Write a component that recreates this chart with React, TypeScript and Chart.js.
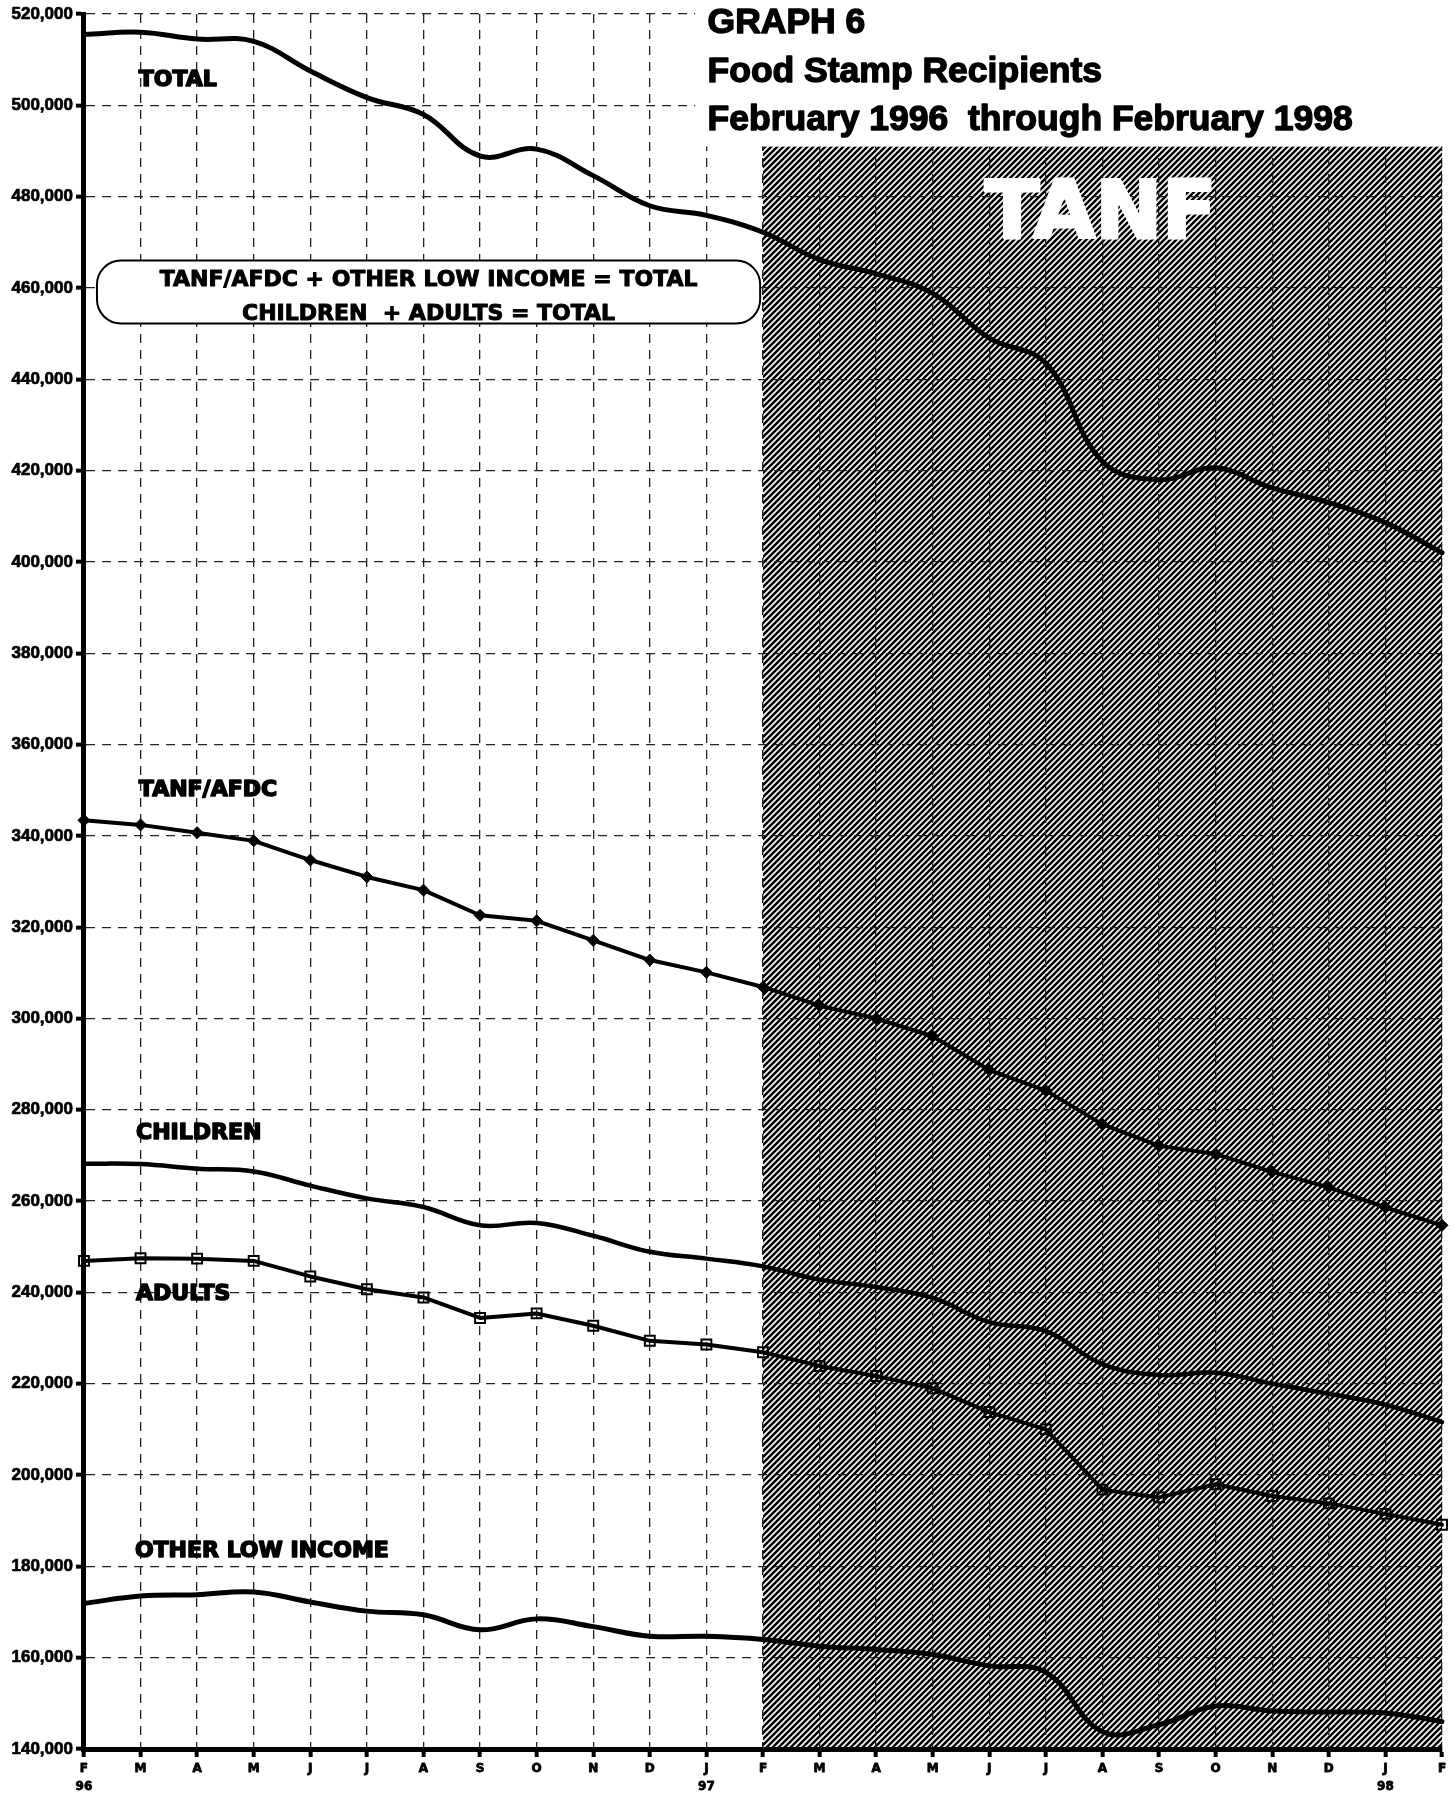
import React, { useEffect, useRef } from "react";
import { Chart, registerables } from "chart.js";

Chart.register(...registerables);

// ---------- data ----------
const monthLabels = ["F", "M", "A", "M", "J", "J", "A", "S", "O", "N", "D", "J", "F", "M", "A", "M", "J", "J", "A", "S", "O", "N", "D", "J", "F"];
const yearTags = ["96", "", "", "", "", "", "", "", "", "", "", "97", "", "", "", "", "", "", "", "", "", "", "", "98", ""];

const totalRecipients = [515500, 516000, 514500, 514000, 507500, 501700, 498000, 488900, 490400, 484600, 478000, 475900, 472200, 466200, 463100, 458800, 449000, 443500, 422000, 418000, 420600, 416200, 413000, 408600, 402000];
const tanfAfdc = [343400, 342400, 340700, 338900, 334700, 331000, 328100, 322600, 321400, 317100, 312800, 310100, 306900, 302800, 300000, 296100, 288700, 284200, 276800, 272100, 270300, 266400, 263000, 258600, 254700];
const children = [268200, 268100, 267100, 266500, 263400, 260600, 258700, 254700, 255200, 252400, 248900, 247400, 245700, 242800, 241200, 238800, 233500, 231500, 224300, 221900, 222400, 220000, 217800, 215400, 211600];
const adults = [246900, 247500, 247400, 246900, 243500, 240700, 238900, 234400, 235400, 232700, 229400, 228600, 226900, 223900, 221700, 219000, 213800, 210000, 196800, 195100, 198000, 195400, 193800, 191500, 189100];
const otherLowIncome = [171900, 173500, 173800, 174400, 172200, 170200, 169400, 166100, 168500, 166800, 164700, 164700, 164000, 162500, 161800, 160700, 158200, 156800, 143800, 145300, 149400, 148300, 148100, 147900, 146000];

const yMin = 140000;
const yMax = 520000;
const yStep = 20000;

// TANF period (shaded): from Feb 97 (index 12) to Feb 98 (index 24)
const tanfFrom = 12;
const tanfTo = 24;
const tanfTopValue = 491000;

const titleLines = ["GRAPH 6", "Food Stamp Recipients", "February 1996  through February 1998"];
const boxLines = ["TANF/AFDC + OTHER LOW INCOME = TOTAL", "CHILDREN  + ADULTS = TOTAL"];
const seriesLabelTexts = ["TOTAL", "TANF/AFDC", "CHILDREN", "ADULTS", "OTHER LOW INCOME"];
const seriesLabelAt = [0.97, 0.97, 0.92, 0.92, 0.9];
const seriesLabelValue = [506000, 350500, 275400, 240000, 183700];

const TICK_LEN = 8;
const TICK_PAD = 3;
const X_LINE_H = 18;

function fmt(v: number): string {
  return String(v).replace(/\B(?=(\d{3})+(?!\d))/g, ",");
}

function makeTile(): HTMLCanvasElement {
  const tile = document.createElement("canvas");
  tile.width = 6;
  tile.height = 6;
  const t = tile.getContext("2d")!;
  t.strokeStyle = "#000";
  t.lineWidth = 2.5;
  t.beginPath();
  t.moveTo(-1, 7);
  t.lineTo(7, -1);
  t.moveTo(-2, 2);
  t.lineTo(2, -2);
  t.moveTo(4, 8);
  t.lineTo(8, 4);
  t.stroke();
  return tile;
}

function heavyText(ctx: CanvasRenderingContext2D, text: string, x: number, y: number, stroke: number) {
  ctx.fillText(text, x, y);
  if (stroke > 0) {
    ctx.lineWidth = stroke;
    ctx.lineJoin = "round";
    ctx.strokeStyle = ctx.fillStyle as string;
    ctx.strokeText(text, x, y);
  }
}

export default function App() {
  const ref = useRef<HTMLCanvasElement>(null);

  useEffect(() => {
    const canvas = ref.current!;
    const tile = makeTile();

    const decor = {
      id: "decor",
      beforeDraw(chart: any) {
        const { ctx, chartArea, scales } = chart;
        const x = scales.x;
        const y = scales.y;
        const x0 = x.getPixelForValue(tanfFrom);
        const x1 = x.getPixelForValue(tanfTo);
        const y0 = y.getPixelForValue(tanfTopValue);
        ctx.save();
        ctx.fillStyle = ctx.createPattern(tile, "repeat");
        ctx.fillRect(x0, y0, x1 - x0, chartArea.bottom - y0);
        ctx.restore();
      },
      beforeDatasetsDraw(chart: any) {
        const { ctx, chartArea, scales, width } = chart;
        const x = scales.x;
        const y = scales.y;
        ctx.save();

        // axis tick labels, taken from the scales' own ticks
        ctx.fillStyle = "#000";
        ctx.textBaseline = "middle";
        ctx.textAlign = "right";
        ctx.font = 'bold 17px "Liberation Sans"';
        y.ticks.forEach((t: any) => {
          heavyText(ctx, String(t.label), y.right - TICK_LEN - TICK_PAD, y.getPixelForValue(t.value), 0.7);
        });
        ctx.textAlign = "center";
        ctx.font = 'bold 12px "DejaVu Sans"';
        x.ticks.forEach((t: any, i: number) => {
          const lines = Array.isArray(t.label) ? t.label : [t.label];
          const px = x.getPixelForTick(i);
          lines.forEach((ln: string, j: number) => {
            heavyText(ctx, ln, px, x.top + TICK_LEN + TICK_PAD + X_LINE_H / 2 + j * X_LINE_H, 0.8);
          });
        });
        ctx.textBaseline = "alphabetic";

        // white block behind title
        const hatchTop = y.getPixelForValue(tanfTopValue);
        const tx = x.getPixelForValue(10.8);
        ctx.fillStyle = "#fff";
        ctx.fillRect(tx, 0, width - tx, hatchTop);

        // title
        ctx.fillStyle = "#000";
        ctx.textAlign = "left";
        ctx.font = 'bold 35.5px "Liberation Sans"';
        const titleX = x.getPixelForValue(11.02);
        const titleOffsets = [19, 68, 116];
        titleLines.forEach((t, i) => heavyText(ctx, t, titleX, chartArea.top + titleOffsets[i], 1.4));

        // rounded box
        const bx0 = x.getPixelForValue(0.23);
        const bx1 = x.getPixelForValue(11.95);
        const by0 = y.getPixelForValue(466000);
        const by1 = y.getPixelForValue(452200);
        ctx.beginPath();
        if ((ctx as any).roundRect) {
          (ctx as any).roundRect(bx0, by0, bx1 - bx0, by1 - by0, 24);
        } else {
          ctx.rect(bx0, by0, bx1 - bx0, by1 - by0);
        }
        ctx.fillStyle = "#fff";
        ctx.fill();
        ctx.lineWidth = 2;
        ctx.strokeStyle = "#000";
        ctx.stroke();
        ctx.fillStyle = "#000";
        ctx.textAlign = "center";
        ctx.font = 'bold 22px "DejaVu Sans"';
        const cx = (bx0 + bx1) / 2;
        heavyText(ctx, boxLines[0], cx, by0 + 25, 1);
        heavyText(ctx, boxLines[1], cx, by1 - 4, 1);

        // TANF knock-out label
        ctx.fillStyle = "#fff";
        ctx.font = 'bold 80px "DejaVu Sans"';
        heavyText(ctx, "TANF", x.getPixelForValue(17.97), y.getPixelForValue(477300) + 29, 3);

        // series labels
        ctx.fillStyle = "#000";
        ctx.textAlign = "left";
        ctx.font = 'bold 22px "DejaVu Sans"';
        seriesLabelTexts.forEach((t, i) => {
          heavyText(ctx, t, x.getPixelForValue(seriesLabelAt[i]), y.getPixelForValue(seriesLabelValue[i]) + 8, 1.6);
        });

        ctx.restore();
      },
    };

    const labels = monthLabels.map((m, i) => (yearTags[i] ? [m, yearTags[i]] : m));

    const chart = new Chart(canvas, {
      type: "line",
      data: {
        labels,
        datasets: [
          {
            label: "TOTAL",
            data: totalRecipients,
            borderColor: "#000",
            borderWidth: 5,
            pointRadius: 0,
            tension: 0.4,
            clip: false as any,
          },
          {
            label: "TANF/AFDC",
            data: tanfAfdc,
            borderColor: "#000",
            borderWidth: 4,
            pointStyle: "rectRot",
            pointRadius: 6,
            pointBackgroundColor: "#000",
            pointBorderColor: "#000",
            pointBorderWidth: 1,
            tension: 0,
            clip: false as any,
          },
          {
            label: "CHILDREN",
            data: children,
            borderColor: "#000",
            borderWidth: 4.5,
            pointRadius: 0,
            tension: 0.4,
            clip: false as any,
          },
          {
            label: "ADULTS",
            data: adults,
            borderColor: "#000",
            borderWidth: 4,
            pointStyle: "rect",
            pointRadius: 7,
            pointBackgroundColor: "rgba(0,0,0,0)",
            pointBorderColor: "#000",
            pointBorderWidth: 2,
            tension: 0,
            clip: false as any,
          },
          {
            label: "OTHER LOW INCOME",
            data: otherLowIncome,
            borderColor: "#000",
            borderWidth: 5,
            pointRadius: 0,
            tension: 0.4,
            clip: false as any,
          },
        ],
      },
      options: {
        responsive: false,
        animation: false,
        layout: { padding: { top: 14, right: 14, left: 8.5, bottom: 2 } },
        elements: { line: { borderCapStyle: "round", borderJoinStyle: "round" } },
        plugins: {
          legend: { display: false },
          tooltip: { enabled: false },
          title: { display: false },
        },
        scales: {
          x: {
            type: "category",
            offset: false,
            grid: { color: "#222", lineWidth: 1.3, tickLength: TICK_LEN, tickWidth: 4, tickColor: "#000" },
            border: { display: true, color: "#000", width: 5, dash: [9, 7] },
            ticks: {
              autoSkip: false,
              maxRotation: 0,
              minRotation: 0,
              padding: TICK_PAD,
              color: "rgba(0,0,0,0)",
              font: { family: '"DejaVu Sans", sans-serif', weight: "bold", size: 12, lineHeight: 1.5 },
            },
          },
          y: {
            min: yMin,
            max: yMax,
            grid: { color: "#222", lineWidth: 1.3, tickLength: TICK_LEN, tickWidth: 4, tickColor: "#000" },
            border: { display: true, color: "#000", width: 5, dash: [9, 7] },
            ticks: {
              stepSize: yStep,
              padding: TICK_PAD,
              color: "rgba(0,0,0,0)",
              font: { family: '"Liberation Sans", Arial, sans-serif', weight: "bold", size: 17 },
              callback: (v: any) => fmt(Number(v)),
            },
          },
        },
      } as any,
      plugins: [decor as any],
    });

    return () => chart.destroy();
  }, []);

  return (
    <div style={{ position: "absolute", left: 0, top: 0, width: 1456, height: 1801, background: "#fff" }}>
      <canvas ref={ref} width={1456} height={1801} style={{ display: "block", width: 1456, height: 1801 }} />
    </div>
  );
}
